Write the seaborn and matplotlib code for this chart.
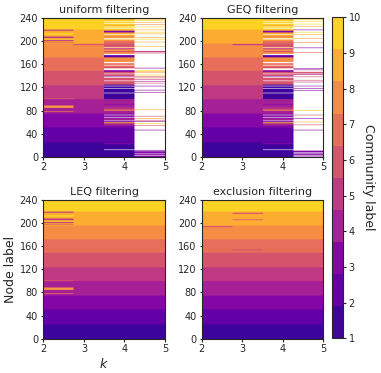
import numpy as np
import seaborn as sns
import matplotlib.pyplot as plt
from matplotlib.colors import ListedColormap

n_nodes = 240
k_values = [2, 3, 4, 5]
community_edges = [0, 25, 51, 75, 100, 124, 149, 172, 196, 220, 240]
community_labels = list(range(1, 11))
panel_titles = ["uniform filtering", "GEQ filtering", "LEQ filtering", "exclusion filtering"]

# changes to the planted communities: (first node, end node, label), label 0 = filtered out
uniform_k2 = [(218, 220, 5), (211, 214, 10), (205, 208, 5), (203, 205, 10), (200, 202, 5),
              (197, 198, 6), (100, 101, 7), (87, 89, 8), (85, 87, 9), (78, 79, 8)]
uniform_k3 = [(193, 195, 6)]
uniform_k4 = [(238, 240, 3), (233, 234, 0), (230, 231, 0), (227, 228, 8), (224, 225, 0),
              (221, 222, 0), (215, 218, 3), (211, 212, 0), (207, 208, 6), (203, 205, 0),
              (196, 201, 7), (190, 196, 6), (188, 189, 0), (186, 188, 5), (181, 183, 6),
              (176, 178, 0), (172, 176, 2), (164, 172, 8), (162, 164, 0), (158, 159, 0),
              (154, 156, 6), (150, 153, 0), (147, 150, 3), (141, 147, 6), (143, 144, 0),
              (139, 140, 3), (137, 139, 0), (131, 132, 0),
              (100, 125, 1), (122, 123, 0), (118, 119, 0), (110, 111, 0),
              (90, 91, 3), (84, 85, 6), (80, 82, 8),
              (72, 73, 0), (68, 69, 0), (65, 66, 6), (62, 63, 0), (58, 60, 9), (55, 56, 6),
              (22, 24, 3), (12, 13, 0)]
# k=5 columns are mostly filtered out: only these nodes keep a label
uniform_k5 = [(237, 238, 10), (235, 236, 10), (232, 233, 9), (228, 229, 8), (224, 225, 10),
              (219, 220, 9), (215, 216, 10), (212, 213, 9), (206, 207, 9), (203, 204, 10),
              (198, 199, 9), (190, 191, 9), (181, 183, 5), (179, 180, 6), (153, 154, 3),
              (149, 150, 10), (147, 148, 9), (145, 146, 8), (141, 142, 10), (138, 139, 6),
              (136, 137, 7), (133, 134, 5), (130, 131, 4), (127, 128, 6), (122, 123, 3),
              (115, 116, 3), (111, 112, 4), (81, 82, 9), (70, 71, 6), (66, 67, 9),
              (63, 64, 6), (61, 62, 3), (57, 58, 10), (54, 55, 6), (46, 47, 3),
              (11, 12, 2), (6, 10, 3), (3, 5, 3), (0, 2, 3)]

geq_k2 = []
geq_k3 = [(193, 195, 5)]
geq_k4 = uniform_k4
geq_k5 = [(237, 238, 10), (234, 235, 10), (229, 230, 10), (225, 226, 9), (219, 220, 3),
          (215, 216, 10), (211, 212, 9), (204, 205, 9), (197, 198, 8), (188, 189, 3),
          (180, 181, 7), (152, 153, 3), (150, 151, 4), (145, 147, 6), (142, 144, 5),
          (138, 139, 6), (132, 133, 6), (129, 130, 5), (122, 123, 3), (118, 119, 3),
          (114, 115, 3), (80, 81, 10), (72, 73, 6), (66, 67, 3), (60, 61, 9),
          (55, 56, 6), (46, 47, 3), (8, 11, 3), (6, 7, 2), (3, 5, 3), (1, 2, 3)]

leq_k2 = uniform_k2
exclusion_k2 = [(193, 195, 6)]
exclusion_k3 = [(216, 218, 6), (205, 207, 7), (153, 155, 6)]

# (changes, column starts empty)
panel_columns = [
    [(uniform_k2, False), (uniform_k3, False), (uniform_k4, False), (uniform_k5, True)],
    [(geq_k2, False), (geq_k3, False), (geq_k4, False), (geq_k5, True)],
    [(leq_k2, False), ([], False), ([], False), ([], False)],
    [(exclusion_k2, False), (exclusion_k3, False), ([], False), ([], False)],
]


def make_column(changes, empty):
    col = np.full(n_nodes, np.nan)
    if not empty:
        for lo, hi, lab in zip(community_edges[:-1], community_edges[1:], community_labels):
            col[lo:hi] = lab
    for lo, hi, lab in changes:
        col[lo:hi] = np.nan if lab == 0 else lab
    return col


sns.set_style("ticks")
plt.rcParams['font.family'] = ['DejaVu Sans']

cmap = ListedColormap(sns.color_palette("plasma", 10))
cmap.set_bad('white')

fig = plt.figure(figsize=(3.81, 3.73), dpi=100)
positions = [[0.1137, 0.580, 0.3194, 0.371], [0.5294, 0.580, 0.3194, 0.371],
             [0.1137, 0.092, 0.3194, 0.372], [0.5294, 0.092, 0.3194, 0.372]]

for i, (title, cols) in enumerate(zip(panel_titles, panel_columns)):
    ax = fig.add_axes(positions[i])
    mat = np.column_stack([make_column(c, e) for c, e in cols])
    # widen each column so the image is only smoothed along the node axis
    mat = np.repeat(mat, 40, axis=1)
    im = ax.imshow(mat, cmap=cmap, vmin=1, vmax=10, origin='lower', aspect='auto',
                   extent=[k_values[0], k_values[-1], 0, n_nodes],
                   interpolation='hanning', interpolation_stage='rgba')
    ax.set_xticks(k_values)
    ax.set_yticks(range(0, n_nodes + 1, 40))
    ax.tick_params(labelsize=7, length=1.8, pad=2)
    ax.set_title(title, fontsize=8, pad=3.5)
    if i == 2:
        ax.set_ylabel("Node label", fontsize=9, labelpad=2)
        ax.set_xlabel("$k$", fontsize=9, labelpad=2)

cax = fig.add_axes([0.871, 0.093, 0.030, 0.861])
cb = fig.colorbar(im, cax=cax, ticks=community_labels)
cb.ax.tick_params(labelsize=7, length=1.8, pad=2)
cb.set_label("Community label", fontsize=9, rotation=270, labelpad=10)

fig.savefig("out.png", dpi=100)
